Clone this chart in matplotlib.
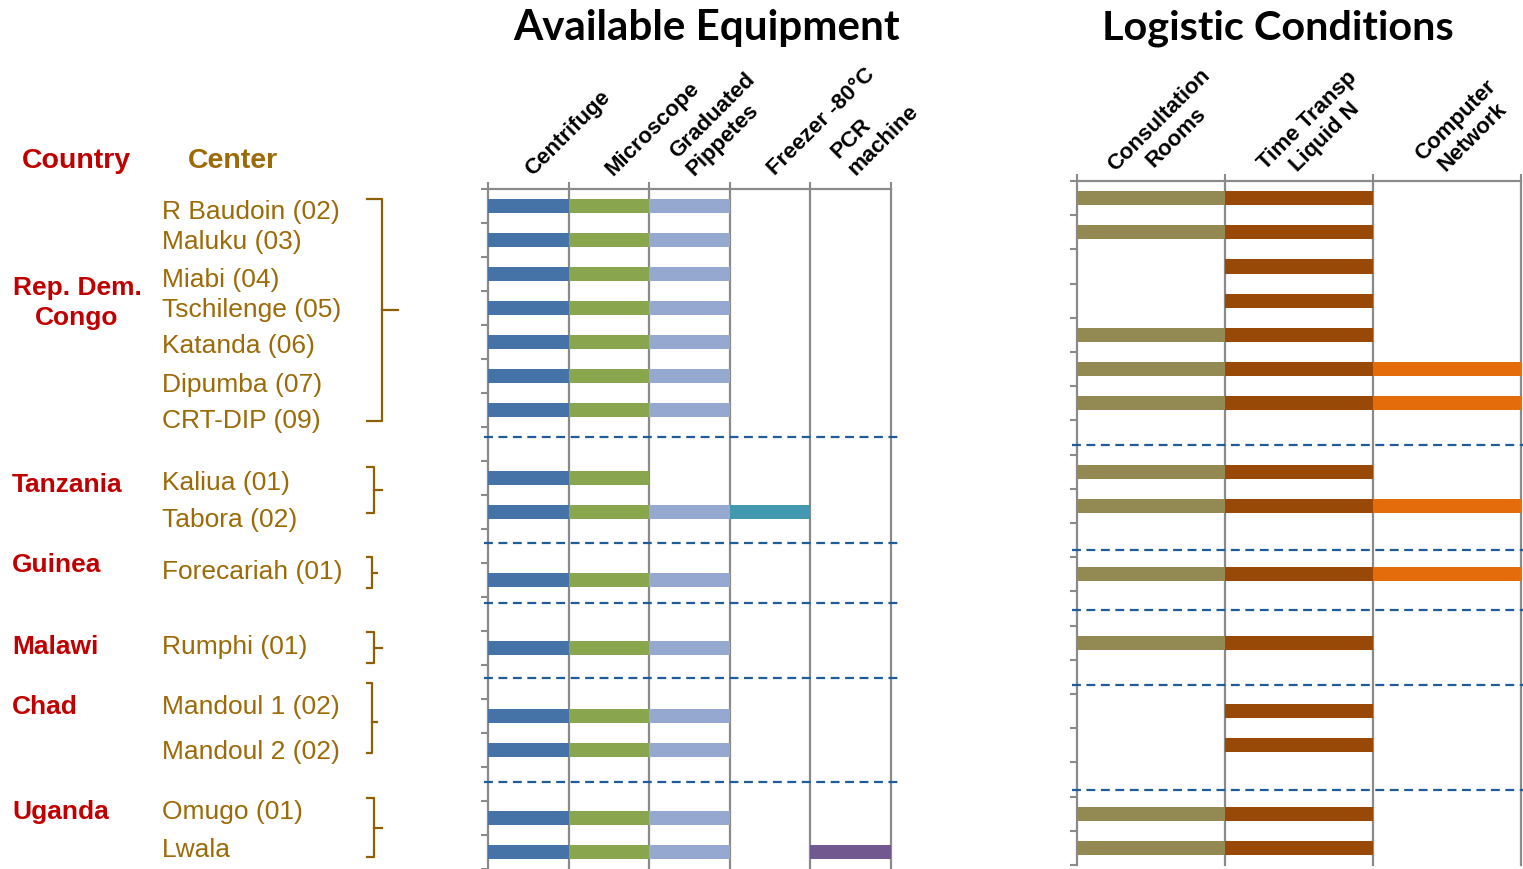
import matplotlib
matplotlib.use('Agg')
import matplotlib.pyplot as plt
from matplotlib.lines import Line2D
from matplotlib.transforms import offset_copy
import numpy as np

# ---------------- data ----------------
countries = ['Rep. Dem.\nCongo', 'Tanzania', 'Guinea', 'Malawi', 'Chad', 'Uganda']
group_sizes = [7, 2, 1, 1, 2, 2]
centers = ['R Baudoin (02)', 'Maluku (03)', 'Miabi (04)', 'Tschilenge (05)',
           'Katanda (06)', 'Dipumba (07)', 'CRT-DIP (09)', 'Kaliua (01)',
           'Tabora (02)', 'Forecariah (01)', 'Rumphi (01)', 'Mandoul 1 (02)',
           'Mandoul 2 (02)', 'Omugo (01)', 'Lwala']

equip_labels = ['Centrifuge', 'Microscope', 'Graduated\nPippetes',
                'Freezer -80°C', 'PCR\nmachine']
centrifuge = [1, 1, 1, 1, 1, 1, 1, 1, 1, 1, 1, 1, 1, 1, 1]
microscope = [1, 1, 1, 1, 1, 1, 1, 1, 1, 1, 1, 1, 1, 1, 1]
pipettes   = [1, 1, 1, 1, 1, 1, 1, 0, 1, 1, 1, 1, 1, 1, 1]
freezer    = [0, 0, 0, 0, 0, 0, 0, 0, 1, 0, 0, 0, 0, 0, 0]
pcr        = [0, 0, 0, 0, 0, 0, 0, 0, 0, 0, 0, 0, 0, 0, 1]

logi_labels = ['Consultation\nRooms', 'Time Transp\nLiquid N', 'Computer\nNetwork']
consultation = [1, 1, 0, 0, 1, 1, 1, 1, 1, 1, 1, 0, 0, 1, 1]
time_liq_n   = [1, 1, 1, 1, 1, 1, 1, 1, 1, 1, 1, 1, 1, 1, 1]
computer     = [0, 0, 0, 0, 0, 1, 1, 0, 1, 1, 0, 0, 0, 0, 0]

equip_colors = ['#4572A7', '#89A54E', '#95A9D0', '#4198AF', '#71588F']
logi_colors = ['#938953', '#984807', '#E46C0A']

# ---------------- layout ----------------
W, H = 1523, 869
fig = plt.figure(figsize=(W / 100, H / 100), dpi=100)
fig.patch.set_facecolor('white')

def fx(x):
    return x / W

def fy(y):
    return 1 - y / H

# row positions: groups separated by one empty row
rows = []
pos = 0
for g in group_sizes:
    rows.extend(range(pos, pos + g))
    pos += g + 1
n_rows = pos - 1  # 20

GRID = '#8A8A8A'
DASH = '#1F5C99'
RED = '#C00000'
GOLD = '#9C6A07'
BRACE = '#8E5F05'
SANS = ['Liberation Sans', 'DejaVu Sans']


def make_panel(rect_px, series, colors, labels, lab_dx, lab_dy, ha, malign):
    left, top, right, bottom = rect_px
    ax = fig.add_axes([fx(left), fy(bottom), fx(right) - fx(left), fy(top) - fy(bottom)])
    ncol = len(series)
    for j, (vals, c) in enumerate(zip(series, colors)):
        ax.barh(rows, vals, left=j, height=0.41, color=c, linewidth=0, zorder=3)
    ax.set_xlim(0, ncol)
    ax.set_ylim(n_rows - 0.5, -0.5)
    for j in range(1, ncol + 1):
        ax.axvline(j, color=GRID, lw=1.6, zorder=1, clip_on=False)
    ax.xaxis.tick_top()
    ax.set_xticks(range(ncol + 1))
    ax.set_xticklabels([])
    ax.set_yticks(np.arange(-0.5, n_rows, 1))
    ax.set_yticklabels([])
    ax.tick_params(axis='both', length=5, width=1.5, color=GRID, direction='out')
    for s in ['right', 'bottom']:
        ax.spines[s].set_visible(False)
    for s in ['left', 'top']:
        ax.spines[s].set_color(GRID)
        ax.spines[s].set_linewidth(1.6)
    ax.set_facecolor('none')
    tr = offset_copy(ax.get_xaxis_transform(), fig=fig, x=lab_dx, y=lab_dy, units='dots')
    for j, lab in enumerate(labels):
        ax.text(j + 0.5, 1.0, lab, transform=tr, rotation=45,
                rotation_mode='anchor', ha=ha, va='bottom', multialignment=malign,
                fontsize=16, fontweight='bold', family=SANS, color='black')
    return ax


ax1 = make_panel((488, 189, 891, 869),
                 [centrifuge, microscope, pipettes, freezer, pcr],
                 equip_colors, equip_labels, 8, 9, 'left', 'left')
ax2 = make_panel((1077, 181, 1521, 865),
                 [consultation, time_liq_n, computer],
                 logi_colors, logi_labels, 33, 36, 'center', 'center')

# dashed group separators (pixel rows)
equip_sep = [437, 543, 603, 678, 782]
logi_sep = [445, 550, 610, 685, 790]
for y in equip_sep:
    fig.add_artist(Line2D([fx(484), fx(898)], [fy(y), fy(y)], color=DASH,
                          lw=1.6, ls=(0, (4, 2.5))))
for y in logi_sep:
    fig.add_artist(Line2D([fx(1072), fx(1523)], [fy(y), fy(y)], color=DASH,
                          lw=1.6, ls=(0, (4, 2.5))))

# titles
fig.text(fx(707), fy(28), 'Available Equipment', ha='center', va='center',
         fontsize=30.3, fontweight='bold', family=['Lato', 'DejaVu Sans'])
fig.text(fx(1278), fy(28), 'Logistic Conditions', ha='center', va='center',
         fontsize=29.8, fontweight='bold', family=['Lato', 'DejaVu Sans'])

# headers
fig.text(fx(22), fy(161), 'Country', ha='left', va='center', fontsize=20.5,
         fontweight='bold', family=SANS, color=RED)
fig.text(fx(188), fy(161), 'Center', ha='left', va='center', fontsize=20.5,
         fontweight='bold', family=SANS, color=GOLD)

# country labels
country_pos = [(77, 303, 'center'), (12, 485, 'left'), (12, 565, 'left'),
               (12, 647, 'left'), (12, 707, 'left'), (12, 812, 'left')]
for name, (x, y, ha) in zip(countries, country_pos):
    fig.text(fx(x), fy(y), name, ha=ha, va='center', fontsize=19,
             fontweight='bold', family=SANS, color=RED, multialignment='center',
             linespacing=1.35)

# center labels
center_y = [212, 242, 280, 310, 346, 385, 421, 483, 520, 572, 647, 707, 752, 812, 850]
for name, y in zip(centers, center_y):
    fig.text(fx(162), fy(y), name, ha='left', va='center', fontsize=19,
             family=SANS, color=GOLD)

# braces: (x_left, x_vertical, x_tip, y_top, y_mid, y_bottom)
braces = [(367, 382, 398, 199, 310, 421),
          (367, 374, 382, 467, 490, 513),
          (367, 372, 377, 557, 573, 588),
          (367, 374, 382, 632, 648, 663),
          (367, 372, 377, 683, 722, 753),
          (367, 374, 382, 798, 828, 857)]
for xl, xv, xt, yt, ym, yb in braces:
    fig.add_artist(Line2D([fx(xl), fx(xv), fx(xv), fx(xl)],
                          [fy(yt), fy(yt), fy(yb), fy(yb)],
                          color=BRACE, lw=1.6, solid_joinstyle='round'))
    fig.add_artist(Line2D([fx(xv), fx(xt)], [fy(ym), fy(ym)], color=BRACE, lw=1.6))

fig.savefig('out.png', dpi=100, facecolor='white')
